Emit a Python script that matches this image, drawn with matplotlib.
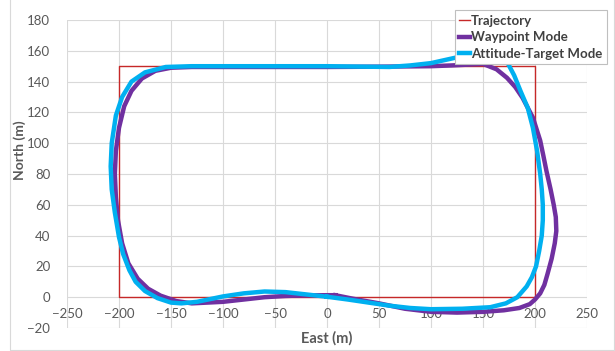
import matplotlib
matplotlib.use('Agg')
import matplotlib.pyplot as plt
from matplotlib.patches import Rectangle

plt.rcParams['font.family'] = ['Lato', 'DejaVu Sans']

# reference trajectory (rectangle)
traj_x = [0, 200, 200, -200, -200, 0]
traj_y = [0, 0, 150, 150, 0, 0]

# waypoint mode path
wp_x = [8, 25, 50, 75, 100, 125, 150, 170, 185, 195, 200, 205, 209, 212, 216, 219,
        220.5, 220, 218, 215, 211, 208, 205, 198, 188, 181, 173, 163, 150, 120, 100,
        50, 0, -50, -100, -130, -150, -165, -178, -188, -195, -200, -203, -204, -203,
        -201, -197, -191, -182, -172, -160, -145, -130, -115, -100, -80, -60, -40,
        -20, 0, 8]
wp_y = [1.3, -1, -4, -7.5, -9.5, -10, -9.5, -8.5, -7, -4.5, -1.5, 2.5, 8, 15, 25, 35,
        43, 52, 60, 70, 82, 92, 101.7, 116.6, 129.5, 136.5, 142.5, 148, 151.5, 150.5,
        150, 149.7, 149.5, 149.5, 149.5, 149.5, 149, 147, 142, 134, 124, 110, 95, 80,
        65, 50, 35, 22, 12, 5.5, 1, -2.5, -4, -3.5, -3, -1.5, 0, 0.8, 1.2, 1.3, 1.3]

# attitude-target mode path
at_x = [0, 20, 40, 60, 80, 100, 130, 157, 172, 183, 192, 197, 201, 204, 206.5, 207.5,
        207.5, 206.5, 205, 202, 198, 193, 186, 180, 173, 165, 155, 140, 120, 100, 80,
        60, 0, -50, -100, -130, -155, -175, -188, -197, -203, -207, -208, -207, -204,
        -200, -196, -190, -184, -175, -163, -150, -140, -125, -100, -80, -60, -40,
        -20, 0]
at_y = [0.3, -1.5, -3.5, -5.5, -7, -7.8, -7.5, -6.5, -4, 0, 7, 13, 20, 30, 40, 50,
        60, 70, 80, 95, 110, 123, 134, 144, 153, 157.5, 159, 158, 155, 152, 150.5,
        149.5, 150, 150, 150, 150, 149.5, 146, 140, 130, 118, 100, 85, 70, 55, 39, 28,
        17.5, 10, 4, -0.6, -3.5, -4, -3, 0.5, 2.5, 3.7, 3.3, 1.8, 0.3]

fig = plt.figure(figsize=(6.15, 3.51), dpi=100)
ax = fig.add_axes([67/615, 1 - 328/351, 520/615, 308/351])

ax.plot(traj_x, traj_y, color='#C62828', lw=1, label='Trajectory', zorder=3)
ax.plot(wp_x, wp_y, color='#7030A0', lw=3.2, label='Waypoint Mode', zorder=4)
ax.plot(at_x, at_y, color='#00B0F0', lw=3.2, label='Attitude-Target Mode', zorder=5)

ax.set_xlim(-250, 250)
ax.set_ylim(-20, 180)
ax.set_xticks(range(-250, 251, 50))
ax.set_yticks(range(-20, 181, 20))
ax.grid(color='#D9D9D9', lw=0.8)
ax.set_axisbelow(True)
for s in ax.spines.values():
    s.set_visible(False)
ax.spines['bottom'].set_position(('data', 0))
ax.tick_params(length=0, colors='#595959', labelsize=9.5)
ax.tick_params(axis='x', pad=8)
ax.tick_params(axis='y', pad=12)

fig.text(327/615, 1 - 338/351, 'East (m)', ha='center', va='center',
         fontsize=10.5, fontweight='bold', color='#595959')
fig.text(20/615, 1 - 150/351, 'North (m)', ha='center', va='center', rotation=90,
         fontsize=10, fontweight='bold', color='#595959')

leg = fig.legend(loc='upper right', bbox_to_anchor=(607/615, 1 - 10/351),
                 prop={'size': 9.5, 'weight': 'bold'}, handlelength=0.8,
                 handletextpad=0.1, labelspacing=0.35, borderpad=0.35,
                 borderaxespad=0, fancybox=False, framealpha=1,
                 edgecolor='#BFBFBF')
for t in leg.get_texts():
    t.set_color('#404040')
leg.get_frame().set_linewidth(0.8)

fig.add_artist(Rectangle((10/615, 1/351), 604/615, 1.05, transform=fig.transFigure,
                         fill=False, edgecolor='#D9D9D9', lw=0.8))

fig.savefig('out.png', dpi=100)
